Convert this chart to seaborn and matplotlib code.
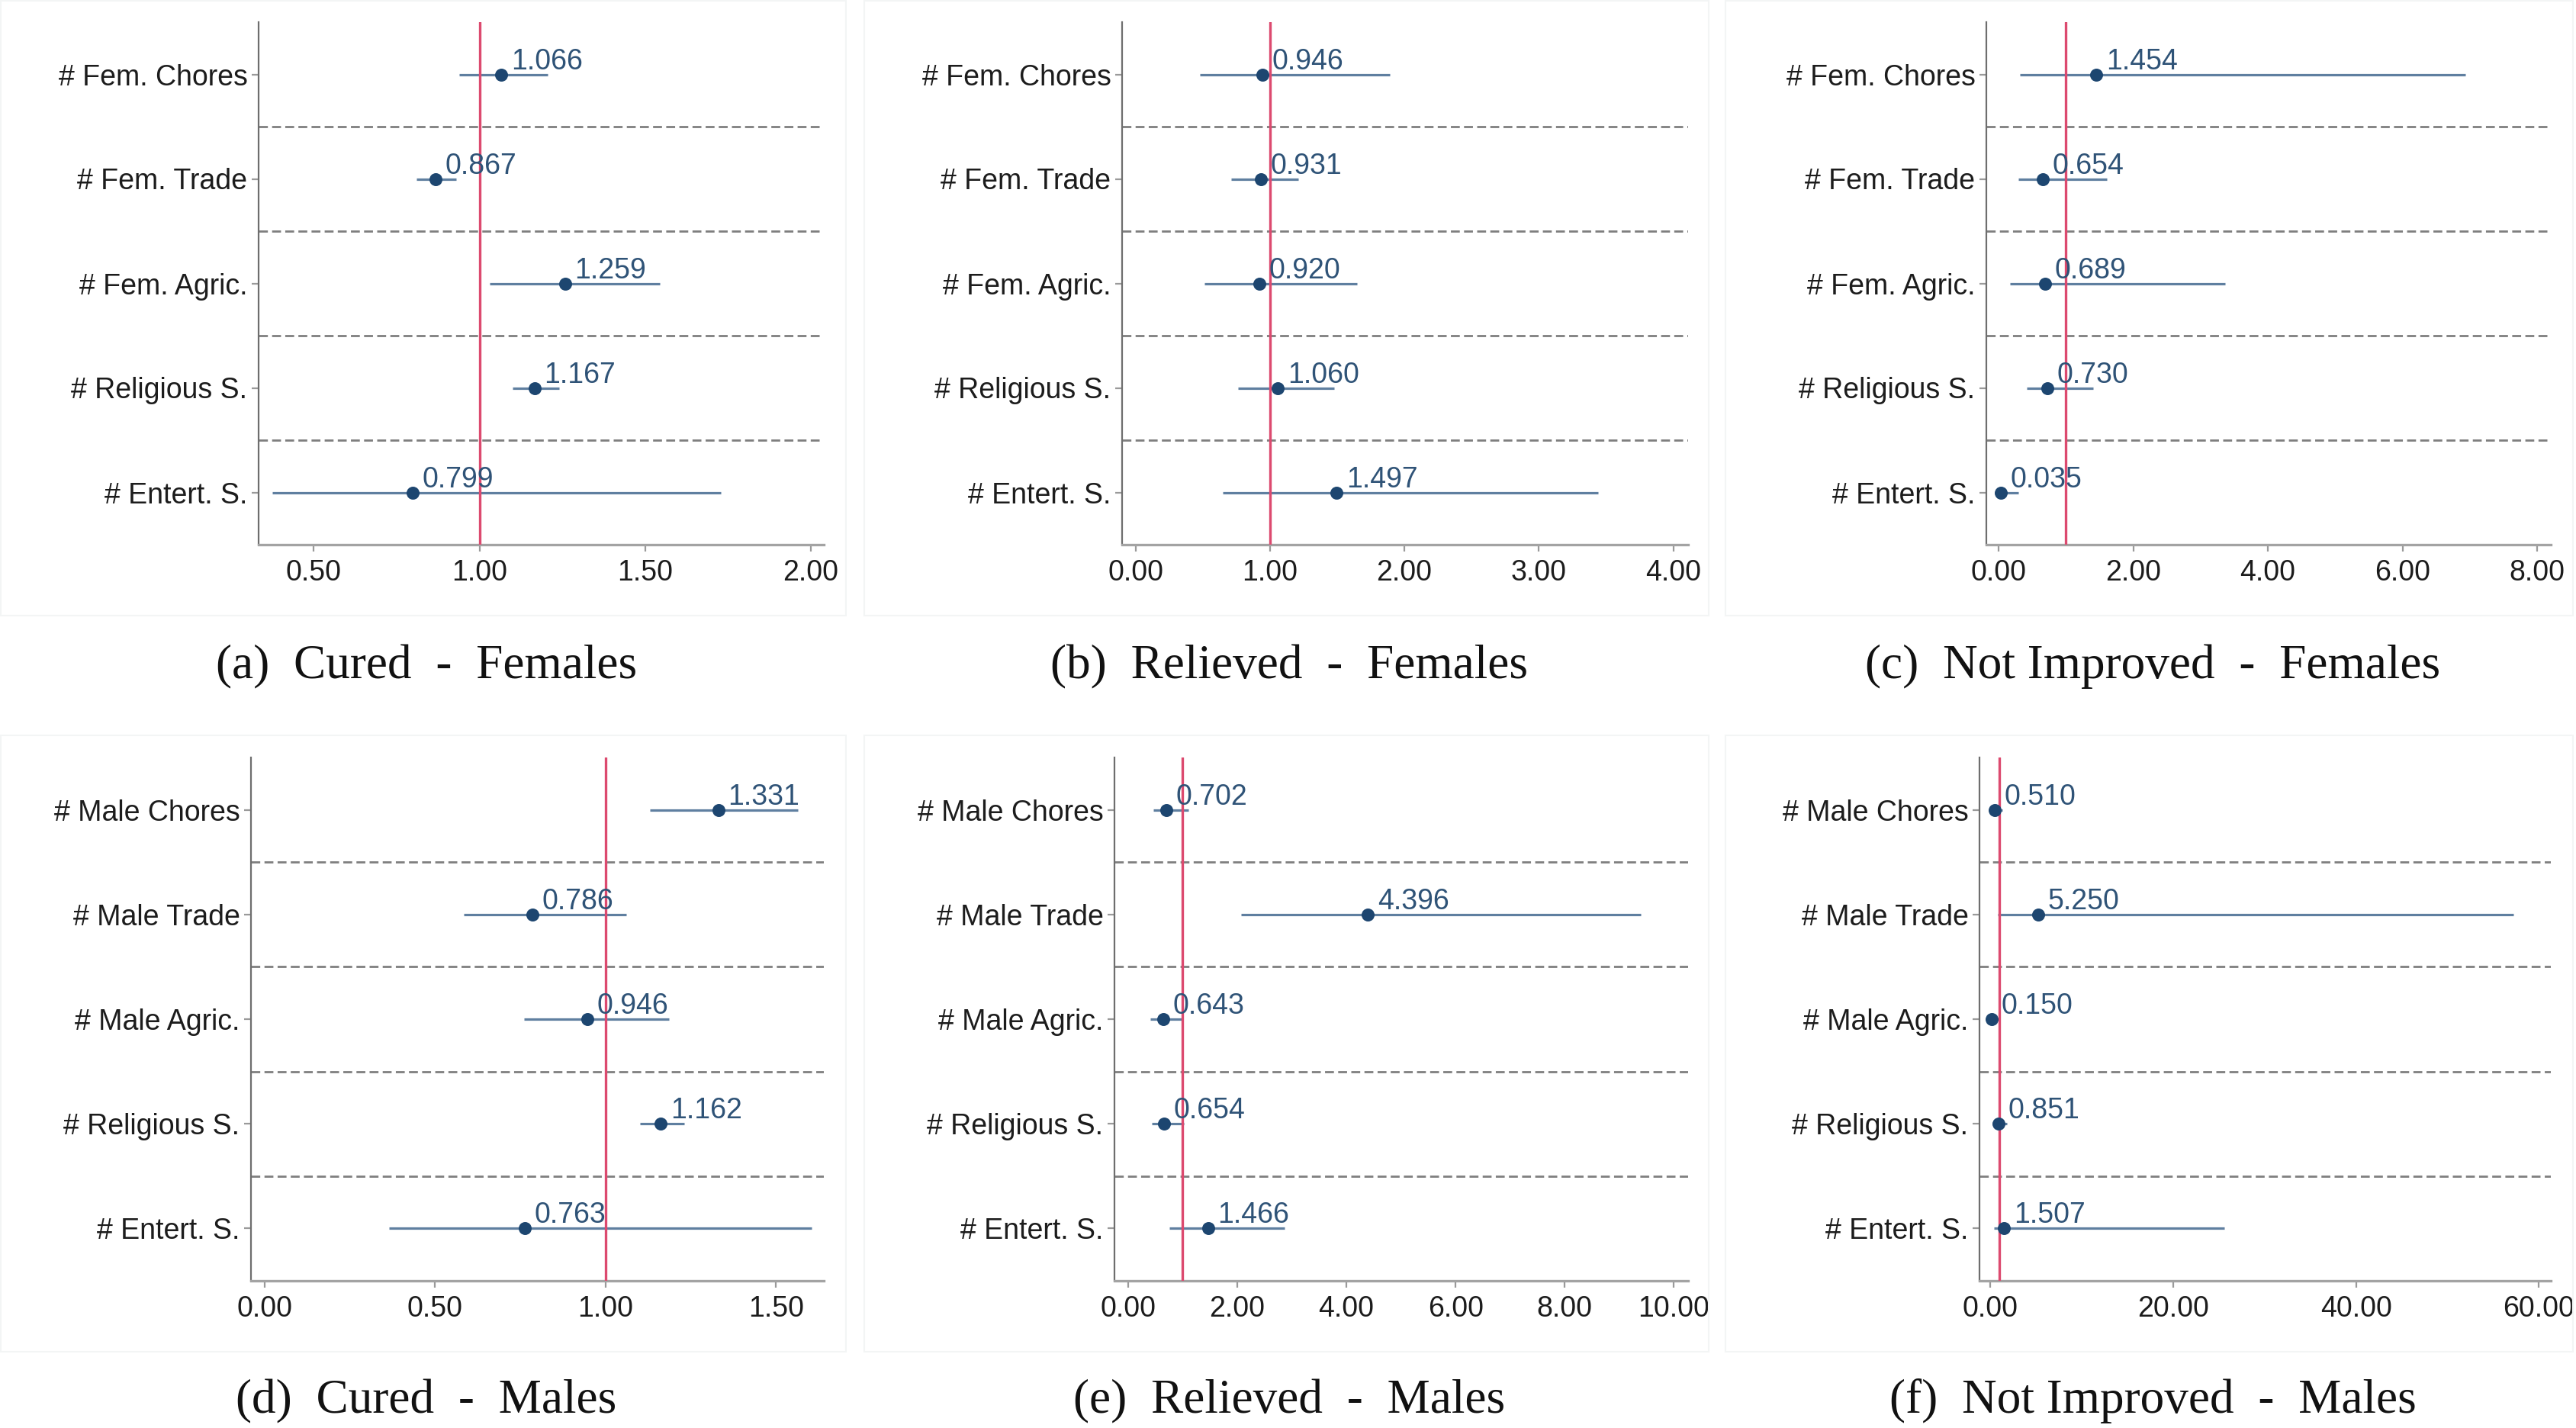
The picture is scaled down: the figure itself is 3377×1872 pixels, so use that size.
import matplotlib
matplotlib.use("Agg")
import matplotlib.pyplot as plt
from matplotlib.ticker import FormatStrFormatter
from matplotlib.patches import Rectangle
import seaborn as sns
import numpy as np
import pandas as pd

# ---------------- data ----------------
fem_labels = ["# Fem. Chores", "# Fem. Trade", "# Fem. Agric.", "# Religious S.", "# Entert. S."]
male_labels = ["# Male Chores", "# Male Trade", "# Male Agric.", "# Religious S.", "# Entert. S."]

a_est = [1.066, 0.867, 1.259, 1.167, 0.799]
a_lo = [0.94, 0.81, 1.03, 1.10, 0.375]
a_hi = [1.205, 0.93, 1.545, 1.24, 1.73]

b_est = [0.946, 0.931, 0.920, 1.060, 1.497]
b_lo = [0.48, 0.71, 0.51, 0.76, 0.65]
b_hi = [1.89, 1.21, 1.65, 1.48, 3.44]

c_est = [1.454, 0.654, 0.689, 0.730, 0.035]
c_lo = [0.32, 0.29, 0.17, 0.42, 0.0]
c_hi = [6.93, 1.61, 3.37, 1.40, 0.29]

d_est = [1.331, 0.786, 0.946, 1.162, 0.763]
d_lo = [1.13, 0.585, 0.76, 1.10, 0.365]
d_hi = [1.565, 1.06, 1.185, 1.23, 1.605]

e_est = [0.702, 4.396, 0.643, 0.654, 1.466]
e_lo = [0.46, 2.07, 0.41, 0.44, 0.76]
e_hi = [1.10, 9.39, 0.99, 1.02, 2.87]

f_est = [0.510, 5.250, 0.150, 0.851, 1.507]
f_lo = [0.20, 0.78, 0.02, 0.40, 0.42]
f_hi = [1.30, 57.2, 0.90, 1.80, 25.6]

captions = ["(a)  Cured  -  Females", "(b)  Relieved  -  Females", "(c)  Not Improved  -  Females",
            "(d)  Cured  -  Males", "(e)  Relieved  -  Males", "(f)  Not Improved  -  Males"]

a_ticks = [0.5, 1.0, 1.5, 2.0]
b_ticks = [0, 1, 2, 3, 4]
c_ticks = [0, 2, 4, 6, 8]
d_ticks = [0, 0.5, 1.0, 1.5]
e_ticks = [0, 2, 4, 6, 8, 10]
f_ticks = [0, 20, 40, 60]

# ---------------- style ----------------
sns.set_theme(style="white")
plt.rcParams["font.family"] = ["Liberation Sans", "DejaVu Sans"]

W, H = 3377, 1872
DPI = 100
fig = plt.figure(figsize=(W / DPI, H / DPI), dpi=DPI)
fig.patch.set_facecolor("white")

dot_color = "#1d4670"
ci_color = "#5f7fa0"
red = "#dc4a6f"
txt_color = "#2f5377"
lab_color = "#1c1c1c"
FS = 27

# axes boxes in pixels: left, right, top, bottom, xlim
boxes = [
    (339, 1080, 29, 714, (0.333, 2.04)),
    (1471, 2213, 29, 714, (-0.10, 4.11)),
    (2604, 3344, 29, 714, (-0.18, 8.2)),
    (329, 1080, 993, 1679, (-0.04, 1.64)),
    (1461, 2213, 993, 1679, (-0.25, 10.26)),
    (2595, 3344, 993, 1679, (-1.2, 61.3)),
]

panels = [
    (fem_labels, a_est, a_lo, a_hi, a_ticks),
    (fem_labels, b_est, b_lo, b_hi, b_ticks),
    (fem_labels, c_est, c_lo, c_hi, c_ticks),
    (male_labels, d_est, d_lo, d_hi, d_ticks),
    (male_labels, e_est, e_lo, e_hi, e_ticks),
    (male_labels, f_est, f_lo, f_hi, f_ticks),
]

# very faint sub-figure frames
frames_x = [(1, 1109), (1133, 2240), (2262, 3373)]
frames_y = [(1, 807), (964, 1772)]
for (y0, y1) in frames_y:
    for (x0, x1) in frames_x:
        fig.patches.append(Rectangle((x0 / W, 1 - y1 / H), (x1 - x0) / W, (y1 - y0) / H,
                                     transform=fig.transFigure, fill=False,
                                     edgecolor="#f3f5f5", linewidth=1.5, zorder=0))

cap_x = [559, 1690, 2822, 559, 1690, 2822]
cap_y = [889, 889, 889, 1852, 1852, 1852]

for idx, ((labels, est, lo, hi, ticks), (l, r, t, b, xlim)) in enumerate(zip(panels, boxes)):
    ax = fig.add_axes([l / W, 1 - b / H, (r - l) / W, (b - t) / H])
    ax.set_facecolor("none")
    df = pd.DataFrame({"label": labels, "est": est, "lo": lo, "hi": hi})
    df["pos"] = np.arange(len(df))

    for k in np.arange(0.5, len(df) - 0.5, 1.0):
        ax.axhline(k, color="#7f7f7f", lw=2.0, ls=(0, (4.2, 2.0)), zorder=1)

    ax.hlines(df["pos"], df["lo"], df["hi"], color=ci_color, lw=2.3, zorder=2)
    ax.axvline(1.0, color=red, lw=2.4, zorder=3)
    sns.scatterplot(data=df, x="est", y="pos", ax=ax, s=150, color=dot_color,
                    edgecolor=dot_color, linewidth=0, zorder=4, legend=False)

    for _, row in df.iterrows():
        ax.annotate(f"{row['est']:.3f}", (row["est"], row["pos"]), xytext=(9, 5),
                    textcoords="offset points", ha="left", va="baseline",
                    fontsize=FS, color=txt_color, zorder=5)

    ax.set_xlim(*xlim)
    ax.set_ylim(len(df) - 0.5, -0.5)
    ax.set_yticks(df["pos"], df["label"])
    ax.set_xticks(ticks)
    ax.xaxis.set_major_formatter(FormatStrFormatter("%.2f"))
    ax.set_xlabel("")
    ax.set_ylabel("")
    ax.tick_params(axis="both", which="major", labelsize=FS, labelcolor=lab_color,
                   color="#9a9a9a", width=1.6, length=6.5, direction="out",
                   bottom=True, left=True)
    ax.tick_params(axis="x", pad=7)
    ax.tick_params(axis="y", pad=4)
    sns.despine(ax=ax)
    ax.spines["left"].set_color("#6e6e6e")
    ax.spines["left"].set_linewidth(1.6)
    ax.spines["bottom"].set_color("#a3a3a3")
    ax.spines["bottom"].set_linewidth(2.4)
    ax.grid(False)

    fig.text(cap_x[idx] / W, 1 - cap_y[idx] / H, captions[idx], ha="center", va="baseline",
             fontsize=45.5, family=["Liberation Serif", "DejaVu Serif"], color="#111111")

fig.savefig("out.png", dpi=DPI, facecolor="white")
